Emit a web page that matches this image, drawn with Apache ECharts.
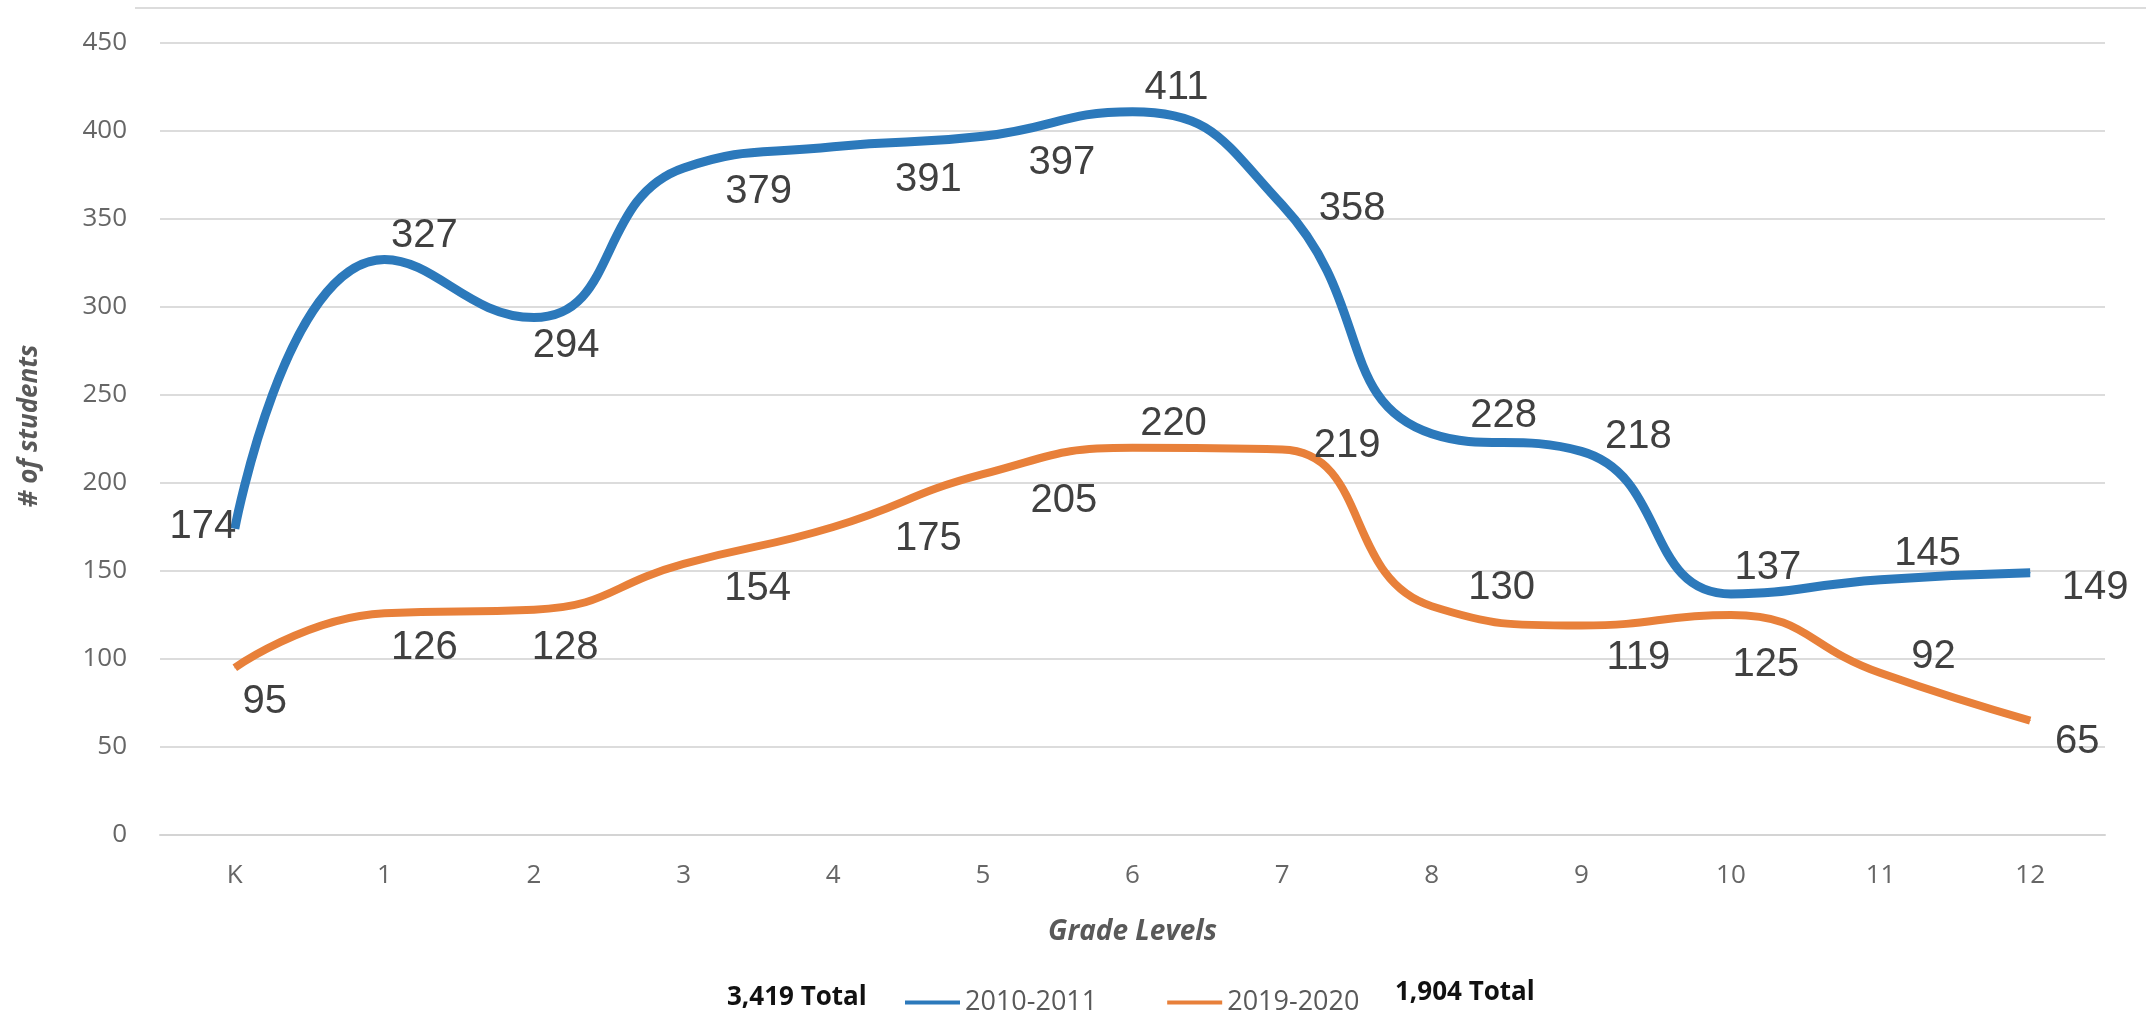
<!DOCTYPE html>
<html>
<head>
<meta charset="utf-8">
<script src="https://cdn.jsdelivr.net/npm/echarts@6/dist/echarts.min.js"></script>
<style>
html,body{margin:0;padding:0;background:#fff;}
#chart{width:2146px;height:1028px;}
</style>
</head>
<body>
<div id="chart"></div>
<script>
const grades = ['K','1','2','3','4','5','6','7','8','9','10','11','12'];
const series2010 = [174,327,294,379,391,397,411,358,228,218,137,145,149];
const series2019 = [95,126,128,154,175,205,220,219,130,119,125,92,65];
const seriesNames = ['2010-2011','2019-2020'];
const totals = ['3,419 Total','1,904 Total'];
const yTicks = {min:0, max:450, interval:50};

// label placement (pixel offsets from each point), kept apart from the data
const offs2010 = [[-32,-2],[40,-24],[32,28],[75,24],[95,33],[79,27],[44,-24],[70,4],[72,-18],[57,-14],[37,-26],[47,-26],[65,15]];
const offs2019 = [[30,34],[40,35],[31,38],[74,25],[95,12],[81,27],[41,-24],[65,-4],[70,-18],[57,32],[35,50],[53,-16],[47,21]];

const BLUE = '#2c79bb', ORANGE = '#e8803a';
const labelFont = {fontFamily:'"Liberation Sans",Arial,sans-serif', fontSize:40, color:'#404040'};

function build(vals, offs){
  return vals.map((v,i)=>({value:v, label:{offset:offs[i]}}));
}

const chart = echarts.init(document.getElementById('chart'), null, {renderer:'canvas'});
chart.setOption({
  backgroundColor:'#fff',
  animation:false,
  grid:{left:160,right:41,top:43,bottom:193},
  xAxis:{
    type:'category', data:grades, boundaryGap:true,
    name:'Grade Levels', nameLocation:'middle', nameGap:83,
    nameTextStyle:{fontFamily:'"Open Sans",sans-serif', fontSize:28, fontStyle:'italic', fontWeight:'bold', color:'#595959'},
    axisLine:{show:true, lineStyle:{color:'#d4d4d4', width:2}},
    axisTick:{show:false},
    axisLabel:{margin:28, fontFamily:'"Open Sans",sans-serif', fontSize:26, color:'#666'}
  },
  yAxis:{
    type:'value', min:yTicks.min, max:yTicks.max, interval:yTicks.interval,
    name:'# of students', nameLocation:'middle', nameGap:117,
    nameTextStyle:{fontFamily:'"Open Sans",sans-serif', fontSize:26, fontStyle:'italic', fontWeight:'bold', color:'#595959', padding:[0,0,0,26]},
    axisLine:{show:false}, axisTick:{show:false},
    axisLabel:{margin:33, fontFamily:'"Open Sans",sans-serif', fontSize:26, color:'#666'},
    splitLine:{lineStyle:{color:'#dcdcdc', width:2}}
  },
  legend:{
    data:seriesNames, left:900, top:984, itemWidth:55, itemHeight:4, itemGap:70, icon:'rect',
    textStyle:{fontFamily:'"Open Sans",sans-serif', fontSize:27, color:'#595959'}
  },
  graphic:[
    {type:'line', shape:{x1:135,y1:8,x2:2146,y2:8}, style:{stroke:'#dcdcdc', lineWidth:2}},
    {type:'text', left:727, top:985, style:{text:totals[0], font:'bold 26px "Open Sans",sans-serif', fill:'#111'}},
    {type:'text', left:1395, top:980, style:{text:totals[1], font:'bold 26px "Open Sans",sans-serif', fill:'#111'}}
  ],
  series:[
    {name:seriesNames[0], type:'line', smooth:0.5, data:build(series2010, offs2010),
     symbol:'circle', symbolSize:1, showSymbol:true,
     lineStyle:{color:BLUE, width:9}, itemStyle:{color:BLUE},
     label:Object.assign({show:true, position:'inside', align:'center', verticalAlign:'middle'}, labelFont)},
    {name:seriesNames[1], type:'line', smooth:0.5, data:build(series2019, offs2019),
     symbol:'circle', symbolSize:1, showSymbol:true,
     lineStyle:{color:ORANGE, width:8}, itemStyle:{color:ORANGE},
     label:Object.assign({show:true, position:'inside', align:'center', verticalAlign:'middle'}, labelFont)}
  ]
});
</script>
</body>
</html>
